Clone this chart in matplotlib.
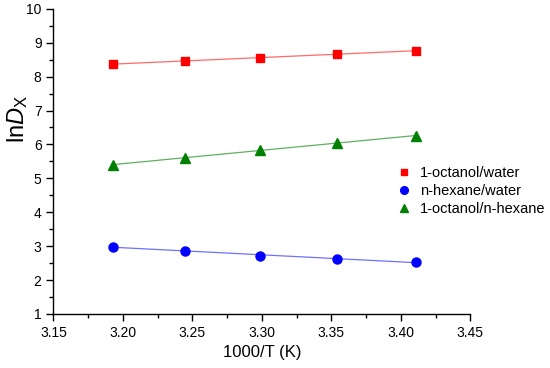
import numpy as np
import matplotlib.pyplot as plt
from matplotlib.ticker import MultipleLocator

plt.rcParams['font.family'] = ['Liberation Sans', 'DejaVu Sans']
plt.rcParams['mathtext.fontset'] = 'custom'
plt.rcParams['mathtext.rm'] = 'Liberation Sans'
plt.rcParams['mathtext.it'] = 'Liberation Sans:italic'

inv_T = [3.193, 3.245, 3.299, 3.354, 3.411]
octanol_water = [8.37, 8.46, 8.56, 8.67, 8.76]
hexane_water = [2.98, 2.87, 2.71, 2.61, 2.54]
octanol_hexane = [5.40, 5.60, 5.84, 6.05, 6.25]

series = [
    ("1-octanol/water", octanol_water, "s", 5.5, "#ff0000", "#ff6a6a"),
    ("n-hexane/water", hexane_water, "o", 6.5, "#0000ff", "#7070ff"),
    ("1-octanol/n-hexane", octanol_hexane, "^", 7, "#008000", "#60b060"),
]

fig = plt.figure(figsize=(5.5, 3.68), dpi=100)
ax = fig.add_axes([0.097, 0.147, 0.758, 0.829])

x = np.array(inv_T)
for label, y, mk, ms, col, lcol in series:
    k, b = np.polyfit(x, y, 1)
    ax.plot(x, k * x + b, color=lcol, linewidth=0.9, zorder=1)
    ax.plot(x, y, linestyle="none", marker=mk, color=col, markersize=ms,
            label=label, zorder=2)

ax.set_xlim(3.15, 3.45)
ax.set_ylim(1, 10)
ax.xaxis.set_major_locator(MultipleLocator(0.05))
ax.xaxis.set_minor_locator(MultipleLocator(0.025))
ax.yaxis.set_major_locator(MultipleLocator(1))
ax.yaxis.set_minor_locator(MultipleLocator(0.5))
ax.xaxis.set_major_formatter(plt.FormatStrFormatter('%.2f'))
ax.spines['top'].set_visible(False)
ax.spines['right'].set_visible(False)
for s in ('left', 'bottom'):
    ax.spines[s].set_linewidth(1.0)
ax.tick_params(which='major', direction='out', length=5, width=1, labelsize=10)
ax.tick_params(which='minor', direction='out', length=3, width=1)

ax.set_xlabel("1000/T (K)", fontsize=12, labelpad=4)
ax.set_ylabel(r"ln$\mathit{D}_\mathrm{X}$", fontsize=17)
ax.yaxis.set_label_coords(-0.055, 0.64)

ax.legend(loc='upper left', bbox_to_anchor=(0.805, 0.505), frameon=False,
          fontsize=10.5, handletextpad=0.5, labelspacing=0.3,
          borderaxespad=0, markerscale=0.85, handlelength=1.2)

fig.savefig("out.png", dpi=100)
